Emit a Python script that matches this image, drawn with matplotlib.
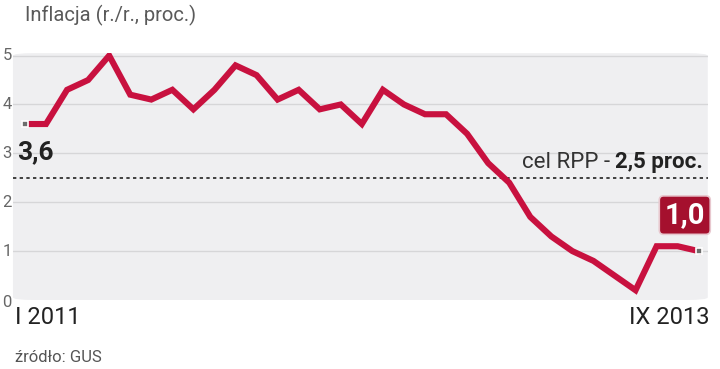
import matplotlib
matplotlib.use('Agg')
import matplotlib.pyplot as plt
from matplotlib.patches import FancyBboxPatch

# inflation y/y, I 2011 - IX 2013
months = list(range(33))
infl = [3.6, 3.6, 4.3, 4.5, 5.0, 4.2, 4.1, 4.3, 3.9, 4.3, 4.8, 4.6,
        4.1, 4.3, 3.9, 4.0, 3.6, 4.3, 4.0, 3.8, 3.8, 3.4, 2.8, 2.4,
        1.7, 1.3, 1.0, 0.8, 0.5, 0.2, 1.1, 1.1, 1.0]
target = 2.5
yticks = [0, 1, 2, 3, 4, 5]
xlabels = ['I 2011', 'IX 2013']

plt.rcParams['font.family'] = ['Roboto', 'DejaVu Sans']

RED = '#c8113f'
fig = plt.figure(figsize=(7.2, 3.69), dpi=100)
ax = fig.add_axes([0.018, 0.187, 0.965, 0.669])
ax.set_xlim(-0.57, 32.43)
ax.set_ylim(0, 5.05)
ax.axis('off')

# panel with rounded corners
bg = FancyBboxPatch((0, 0), 1, 1, boxstyle='round,pad=0,rounding_size=0.03',
                    transform=ax.transAxes, facecolor='#efeff1', edgecolor='none',
                    mutation_aspect=0.669 * 369 / (0.965 * 720), zorder=0, clip_on=False)
ax.add_patch(bg)

for t in yticks[1:]:
    ax.axhline(t, color='#d6d6d8', lw=1, zorder=1)
    ax.text(-0.62, t, str(t), ha='right', va='center', fontsize=12, color='#666666',
            clip_on=False)
ax.text(-0.62, -0.06, '0', ha='right', va='center', fontsize=12, color='#666666', clip_on=False)

ax.axhline(target, color='#222222', lw=1.2, ls=(0, (2, 2)), zorder=2)
t1 = ax.text(32.2, target + 0.1, '2,5 proc.', ha='right', va='bottom', fontsize=16,
             color='#222222', fontweight='bold')
fig.canvas.draw()
bb = t1.get_window_extent().transformed(ax.transData.inverted())
ax.text(bb.x0, target + 0.1, 'cel RPP - ', ha='right', va='bottom', fontsize=16, color='#333333')

ax.plot(months, infl, color=RED, lw=4.4, solid_joinstyle='miter', zorder=3)
for i in (0, len(infl) - 1):
    ax.plot(months[i], infl[i], marker='s', ms=5, mfc='#6d6d6d', mec='white', mew=1.2, zorder=4)

ax.text(-0.35, infl[0] - 0.33, '3,6', ha='left', va='top', fontsize=19, fontweight='bold',
        color='#222222')
ax.text(32.3, infl[-1] + 0.45, '1,0', ha='right', va='bottom', fontsize=21,
        fontweight='bold', color='white', clip_on=False,
        bbox=dict(boxstyle='round,pad=0.18,rounding_size=0.15', fc='#a5102e', ec='#e8c8cf', lw=1.2))

fig.text(0.021, 0.14, xlabels[0], ha='left', va='center', fontsize=17, color='#222222')
fig.text(0.986, 0.14, xlabels[1], ha='right', va='center', fontsize=17, color='#222222')
fig.text(0.035, 0.958, 'Inflacja (r./r., proc.)', ha='left', va='center', fontsize=14.5,
         color='#5a5a5a')
fig.text(0.021, 0.03, 'źródło: GUS', ha='left', va='center', fontsize=12, color='#555555')

fig.savefig('out.png', dpi=100)
